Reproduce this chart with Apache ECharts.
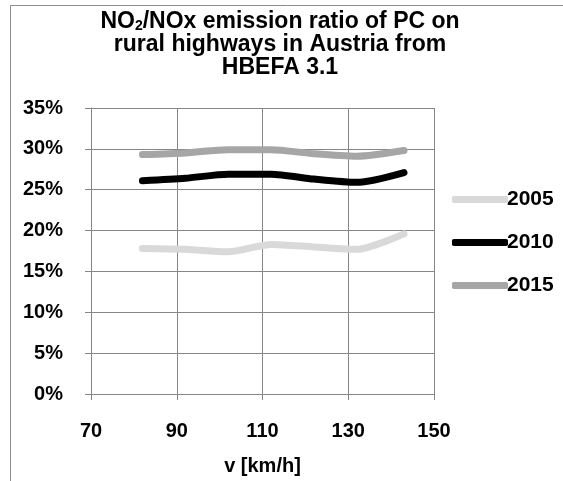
<!DOCTYPE html>
<html>
<head>
<meta charset="utf-8">
<script src="https://cdn.jsdelivr.net/npm/echarts@6/dist/echarts.min.js"></script>
<style>
html,body{margin:0;padding:0;background:#fff;}
#chart{width:563px;height:481px;}
</style>
</head>
<body>
<div id="chart"></div>
<script>
const speeds = [82, 92, 102, 112, 122, 132, 143];
const seriesNames = ['2005', '2010', '2015'];
const values2005 = [17.8, 17.7, 17.4, 18.3, 18.0, 17.7, 19.6];
const values2010 = [26.1, 26.4, 26.9, 26.9, 26.3, 25.9, 27.1];
const values2015 = [29.3, 29.5, 29.9, 29.9, 29.4, 29.1, 29.8];
const xTicks = [70, 90, 110, 130, 150];
const yTicks = [0, 5, 10, 15, 20, 25, 30, 35];

const FONT = "'Liberation Sans', Arial, sans-serif";
const colors = ['#d9d9d9', '#000000', '#a6a6a6'];
const allValues = [values2005, values2010, values2015];

const chart = echarts.init(document.getElementById('chart'));
chart.setOption({
  animation: false,
  backgroundColor: '#fff',
  title: {
    text: '{a|NO}{s|2}{a|/NOx emission ratio of PC on}\n{a|rural highways in Austria from}\n{a|HBEFA 3.1}',
    left: 275,
    top: 5,
    textAlign: 'center',
    textStyle: {
      rich: {
        a: {fontFamily: FONT, fontWeight: 'bold', fontSize: 23, color: '#000', lineHeight: 23},
        s: {fontFamily: FONT, fontWeight: 'bold', fontSize: 14, color: '#000', lineHeight: 23, padding: [10, 0, 0, 0]}
      }
    }
  },
  graphic: [{
    type: 'rect',
    shape: {x: 10.5, y: 5.5, width: 800, height: 800},
    style: {fill: 'none', stroke: '#8c8c8c', lineWidth: 1},
    silent: true
  }],
  legend: {
    orient: 'vertical',
    left: 447,
    top: 184,
    itemWidth: 56,
    itemHeight: 7,
    itemGap: 22,
    icon: 'roundRect',
    data: seriesNames,
    textStyle: {fontFamily: FONT, fontWeight: 'bold', fontSize: 21, color: '#000', lineHeight: 21, padding: [0, 0, 0, -6]}
  },
  grid: {left: 91, right: 129, top: 108, bottom: 85, containLabel: false},
  xAxis: {
    type: 'value',
    min: xTicks[0],
    max: xTicks[xTicks.length - 1],
    interval: 20,
    name: 'v [km/h]',
    nameLocation: 'middle',
    nameGap: 62,
    nameTextStyle: {fontFamily: FONT, fontWeight: 'bold', fontSize: 20, color: '#000'},
    axisLine: {show: true, lineStyle: {color: '#868686', width: 1}},
    axisTick: {show: true, length: 6, lineStyle: {color: '#868686'}},
    axisLabel: {margin: 27, fontFamily: FONT, fontWeight: 'bold', fontSize: 20, color: '#000'},
    splitLine: {show: true, lineStyle: {color: '#868686', width: 1}}
  },
  yAxis: {
    type: 'value',
    min: yTicks[0],
    max: yTicks[yTicks.length - 1],
    interval: 5,
    axisLine: {show: true, lineStyle: {color: '#868686', width: 1}},
    axisTick: {show: true, length: 6, lineStyle: {color: '#868686'}},
    axisLabel: {margin: 28, formatter: '{value}%', fontFamily: FONT, fontWeight: 'bold', fontSize: 20, color: '#000'},
    splitLine: {show: true, lineStyle: {color: '#868686', width: 1}}
  },
  series: seriesNames.map((n, i) => ({
    name: n,
    type: 'line',
    smooth: 0.25,
    showSymbol: false,
    symbol: 'none',
    itemStyle: {color: colors[i]},
    lineStyle: {color: colors[i], width: 7, cap: 'round', join: 'round'},
    data: speeds.map((s, j) => [s, allValues[i][j]])
  }))
});
</script>
</body>
</html>
